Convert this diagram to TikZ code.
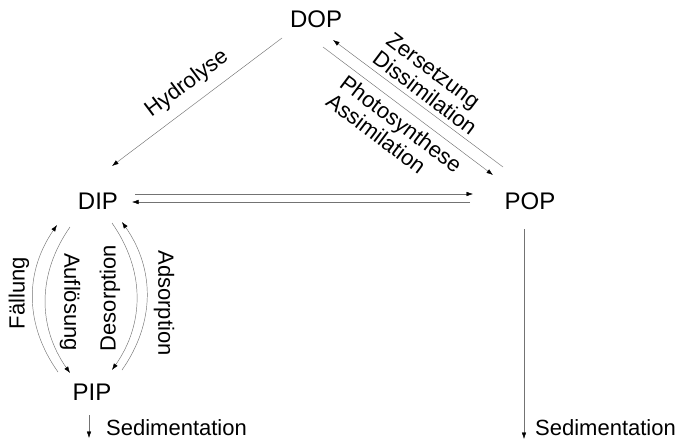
\documentclass[tikz,border=0pt]{standalone}
\usepackage{fontspec}
\setmainfont{Liberation Sans}
\usetikzlibrary{arrows.meta}
\tikzset{
  pool/.style={font=\fontsize{24}{28}\selectfont, inner sep=0pt},
  proc/.style={font=\fontsize{22}{23}\selectfont, inner sep=0pt},
  flux/.style={draw=black!55, line width=0.45pt, -{Latex[length=6.5pt,width=4.5pt,black]}}
}
\begin{document}
\begin{tikzpicture}[x=1pt,y=-1pt]
\useasboundingbox (0,0) rectangle (679,441);
% pools
\node[pool] (DOP) at (316,19) {DOP};
\node[pool] (DIP) at (98,201) {DIP};
\node[pool] (POP) at (530,201) {POP};
\node[pool] (PIP) at (92,392) {PIP};
% DOP -> DIP
\draw[flux] ([shift={(-34,19)}]DOP.center) -- ([shift={(14,-35)}]DIP.center);
\node[proc, rotate=37] (hyd) at (187,84) {Hydrolyse};
% DOP <-> POP
\draw[flux] ([shift={(-27,-34)}]POP.center) -- ([shift={(17,21)}]DOP.center);
\draw[flux] ([shift={(7,28)}]DOP.center) -- ([shift={(-37,-26)}]POP.center);
\node[proc, rotate=-37, anchor=north west, align=left] (zers) at (394,31) {Zersetzung\\Dissimilation};
\node[proc, rotate=-37, anchor=north west, align=left] (phot) at (348,73) {Photosynthese\\Assimilation};
% DIP <-> POP
\draw[flux] ([shift={(37,-7)}]DIP.center) -- ([shift={(-57,-7)}]POP.center);
\draw[flux] ([shift={(-60,1)}]POP.center) -- ([shift={(34,1)}]DIP.center);
% DIP <-> PIP
\draw[flux] ([shift={(-34,-20)}]PIP.center) to[bend left=35] ([shift={(-41,24)}]DIP.center);
\draw[flux] ([shift={(-28,26)}]DIP.center) to[bend right=35] ([shift={(-22,-19)}]PIP.center);
\draw[flux] ([shift={(14,22)}]DIP.center) to[bend left=35] ([shift={(20,-22)}]PIP.center);
\draw[flux] ([shift={(30,-22)}]PIP.center) to[bend right=35] ([shift={(24,21)}]DIP.center);
\node[proc, rotate=90] (fael) at (19,293) {Fällung};
\node[proc, rotate=-90] (aufl) at (70,302) {Auflösung};
\node[proc, rotate=90] (deso) at (110,298) {Desorption};
\node[proc, rotate=-90] (adso) at (164,303) {Adsorption};
% sedimentation
\coordinate (sedL) at (89,438);
\coordinate (sedR) at (524,439);
\draw[flux] ([shift={(-3,23)}]PIP.center) -- (sedL);
\draw[flux] ([shift={(-6,28)}]POP.center) -- (sedR);
\node[proc, anchor=west] (sedLt) at (106,428) {Sedimentation};
\node[proc, anchor=west] (sedRt) at (535,428) {Sedimentation};
\end{tikzpicture}
\end{document}
